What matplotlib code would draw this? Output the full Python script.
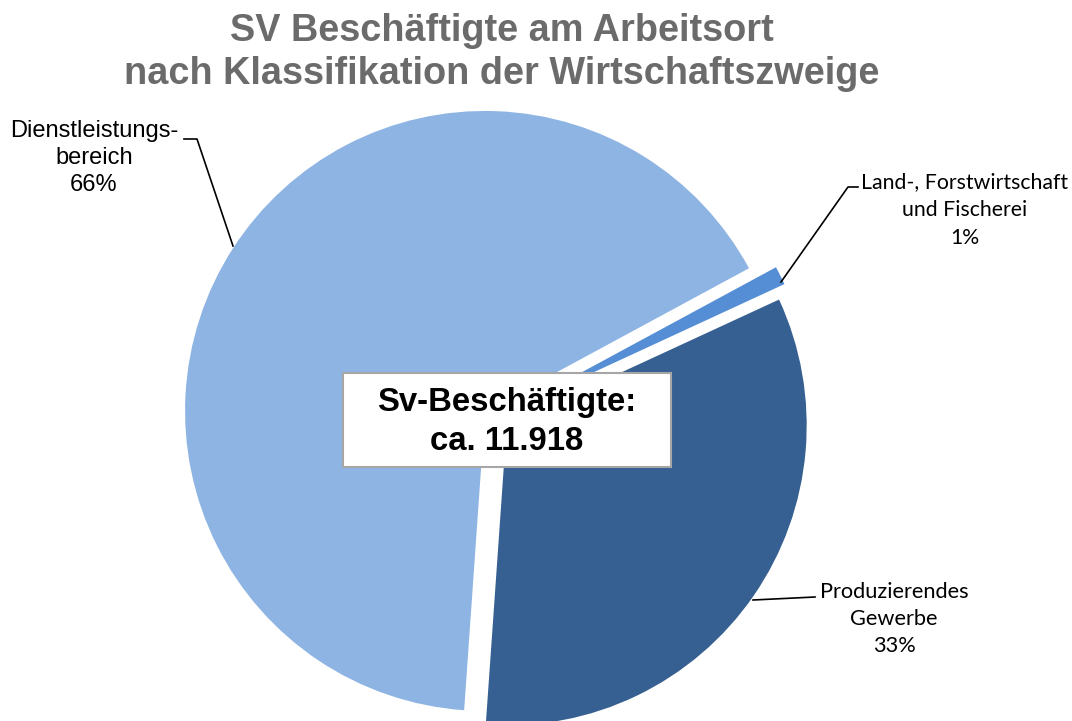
import matplotlib.pyplot as plt
from matplotlib.patches import Rectangle

# Data
sectors = ['Land-, Forstwirtschaft\nund Fischerei', 'Produzierendes\nGewerbe', 'Dienstleistungs-\nbereich']
shares = [1, 33, 66]
total_label = 'Sv-Beschäftigte:\nca. 11.918'
colors = ['#558ED5', '#376092', '#8EB4E3']

W, H = 1072, 721
fig = plt.figure(figsize=(W / 100, H / 100), dpi=100)
ax = fig.add_axes([0, 0, 1, 1])

# pie in pixel coordinates (y up); explode is in data units here
cx, cy, r = 496, H - 418, 300
ax.pie(shares, colors=colors, startangle=28.4, counterclock=False,
       center=(cx, cy), radius=r, explode=[18, 13, 13],
       wedgeprops=dict(linewidth=0))
ax.set_xlim(0, W)
ax.set_ylim(0, H)
ax.set_aspect('equal')
ax.axis('off')

# Title
ax.text(502, H - 31, 'SV Beschäftigte am Arbeitsort', ha='center', va='center',
        fontsize=27.3, fontweight='bold', color='#6b6b6b', family='Liberation Sans')
ax.text(502, H - 74, 'nach Klassifikation der Wirtschaftszweige', ha='center', va='center',
        fontsize=27.3, fontweight='bold', color='#6b6b6b', family='Liberation Sans')

# Labels with leader lines
pct = [f'{v}%' for v in shares]
ax.text(94, H - 158, sectors[2] + '\n' + pct[2], ha='center', va='center',
        fontsize=17, family='Liberation Sans', linespacing=1.3)
ax.plot([184, 197, 233], [H - 139, H - 139, H - 246], color='black', lw=1.2)

ax.text(965, H - 210, sectors[0] + '\n' + pct[0], ha='center', va='center',
        fontsize=15.3, family='Lato', linespacing=1.48)
ax.plot([781, 848, 858], [H - 282, H - 187, H - 187], color='black', lw=1.2)

ax.text(894, H - 619, sectors[1] + '\n' + pct[1], ha='center', va='center',
        fontsize=15.7, family='Lato', linespacing=1.45)
ax.plot([753, 815], [H - 600, H - 597], color='black', lw=1.2)

# Center box
ax.add_patch(Rectangle((343, H - 467), 328, 94, facecolor='white',
                       edgecolor='#a6a6a6', lw=1.5, zorder=5))
ax.text(507, H - 422, total_label, ha='center', va='center', fontsize=23.7,
        fontweight='bold', family='Liberation Sans', linespacing=1.33, zorder=6)

fig.savefig('out.png', dpi=100)
